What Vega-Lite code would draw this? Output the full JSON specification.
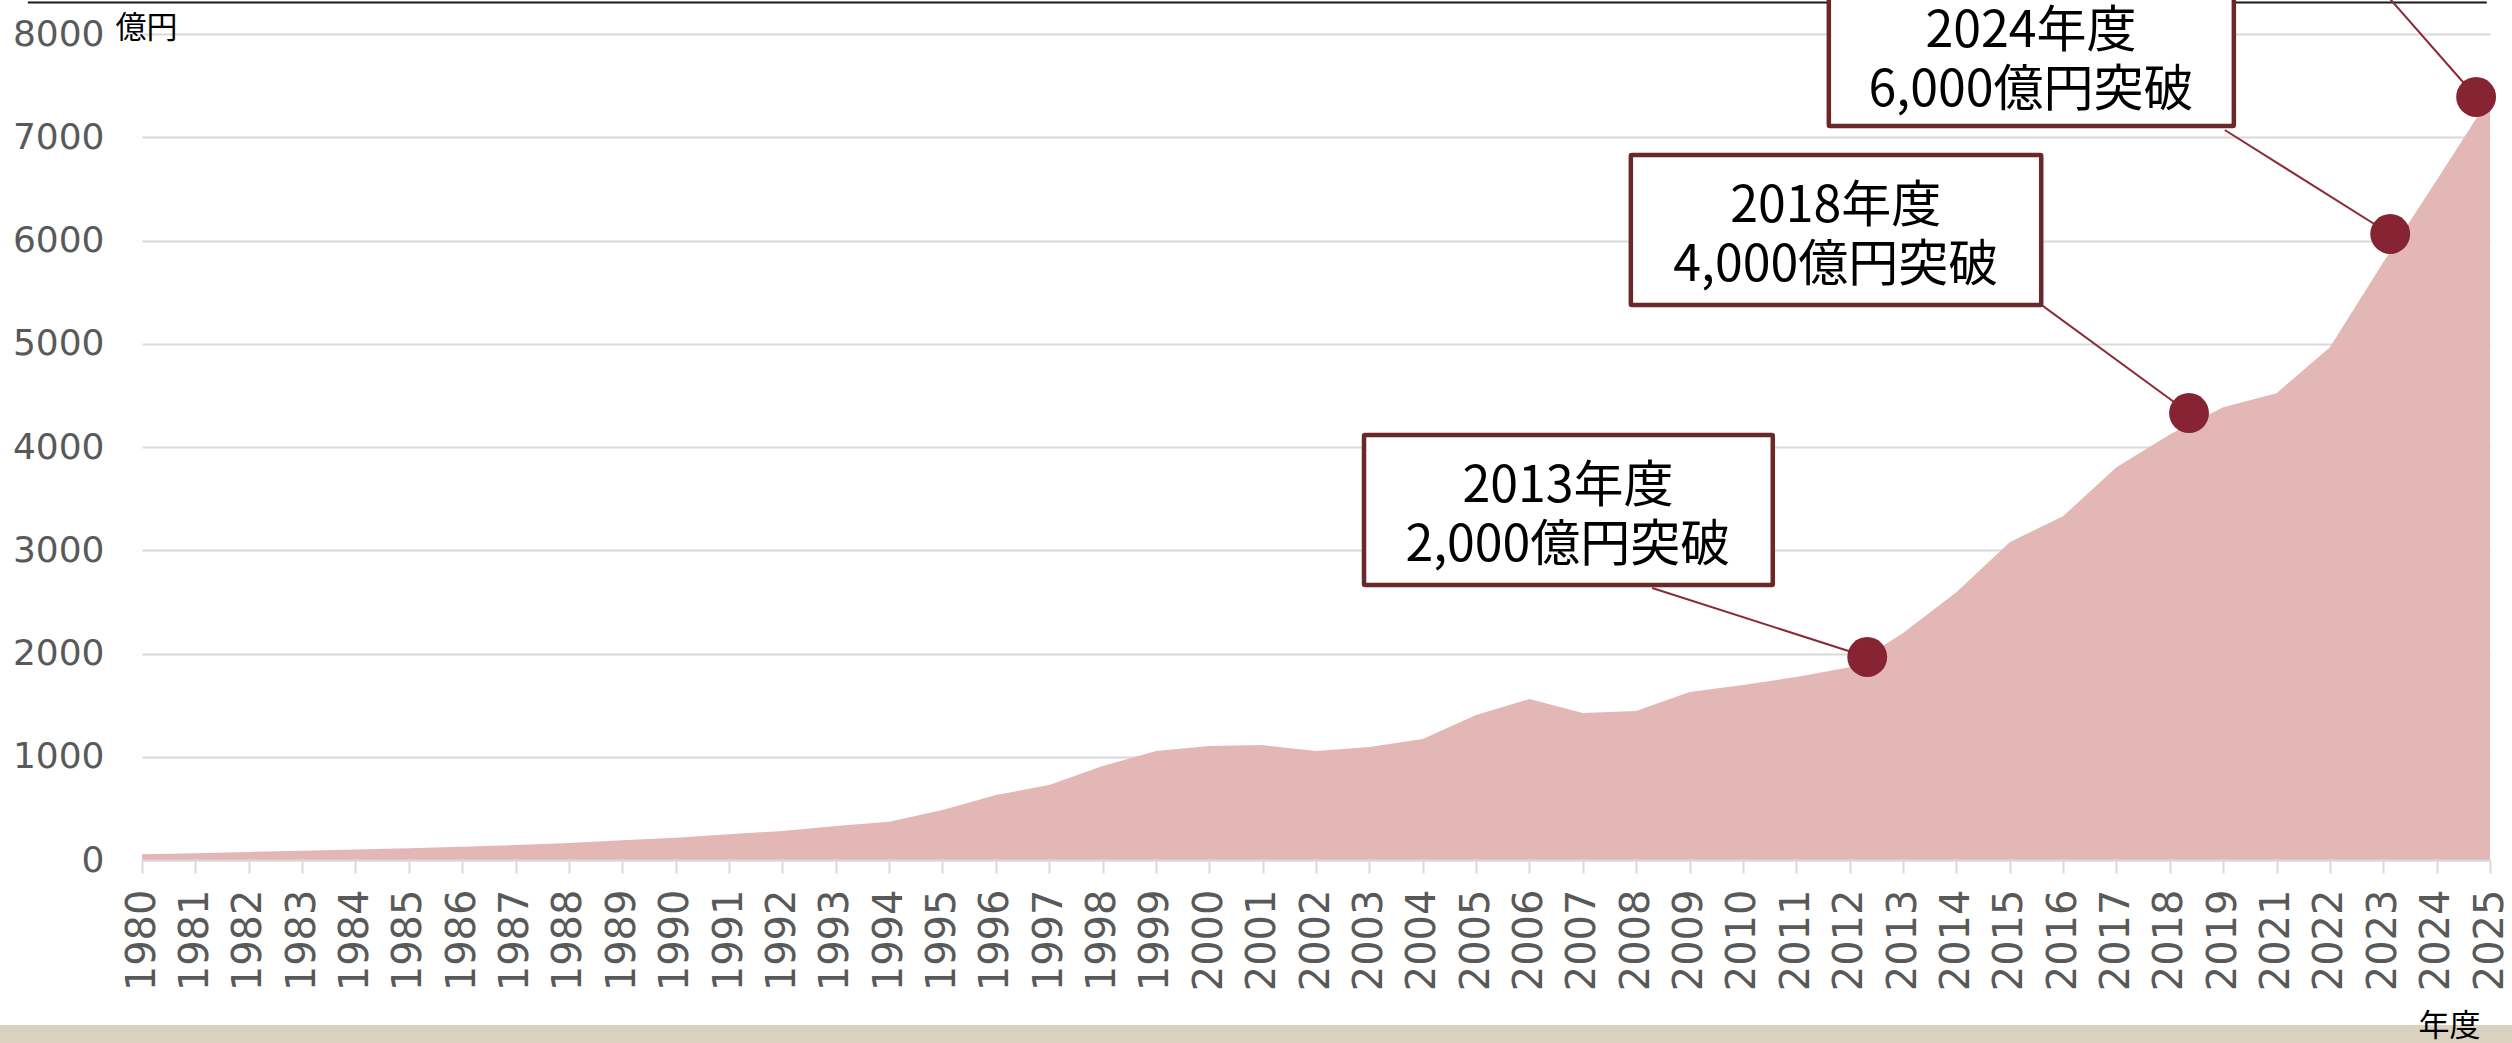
{
  "$schema": "https://vega.github.io/schema/vega-lite/v6.json",
  "width": 2348,
  "height": 826,
  "autosize": {"type": "none"},
  "padding": {"left": 142, "top": 34, "right": 22, "bottom": 183},
  "background": "#ffffff",
  "config": {"view": {"stroke": null}},
  "datasets": {
    "sales": [
      {"fy": "1980", "i": 0, "v": 55},
      {"fy": "1981", "i": 1, "v": 66},
      {"fy": "1982", "i": 2, "v": 78},
      {"fy": "1983", "i": 3, "v": 90},
      {"fy": "1984", "i": 4, "v": 102},
      {"fy": "1985", "i": 5, "v": 115},
      {"fy": "1986", "i": 6, "v": 129},
      {"fy": "1987", "i": 7, "v": 145},
      {"fy": "1988", "i": 8, "v": 165},
      {"fy": "1989", "i": 9, "v": 192},
      {"fy": "1990", "i": 10, "v": 216},
      {"fy": "1991", "i": 11, "v": 249},
      {"fy": "1992", "i": 12, "v": 281},
      {"fy": "1993", "i": 13, "v": 329},
      {"fy": "1994", "i": 14, "v": 371},
      {"fy": "1995", "i": 15, "v": 484},
      {"fy": "1996", "i": 16, "v": 629},
      {"fy": "1997", "i": 17, "v": 726},
      {"fy": "1998", "i": 18, "v": 910},
      {"fy": "1999", "i": 19, "v": 1055},
      {"fy": "2000", "i": 20, "v": 1104},
      {"fy": "2001", "i": 21, "v": 1113},
      {"fy": "2002", "i": 22, "v": 1055},
      {"fy": "2003", "i": 23, "v": 1094},
      {"fy": "2004", "i": 24, "v": 1171},
      {"fy": "2005", "i": 25, "v": 1404},
      {"fy": "2006", "i": 26, "v": 1559},
      {"fy": "2007", "i": 27, "v": 1423},
      {"fy": "2008", "i": 28, "v": 1442},
      {"fy": "2009", "i": 29, "v": 1626},
      {"fy": "2010", "i": 30, "v": 1694},
      {"fy": "2011", "i": 31, "v": 1772},
      {"fy": "2012", "i": 32, "v": 1868},
      {"fy": "2013", "i": 33, "v": 2198},
      {"fy": "2014", "i": 34, "v": 2594},
      {"fy": "2015", "i": 35, "v": 3078},
      {"fy": "2016", "i": 36, "v": 3330},
      {"fy": "2017", "i": 37, "v": 3804},
      {"fy": "2018", "i": 38, "v": 4120},
      {"fy": "2019", "i": 39, "v": 4385},
      {"fy": "2021", "i": 40, "v": 4521},
      {"fy": "2022", "i": 41, "v": 4966},
      {"fy": "2023", "i": 42, "v": 5789},
      {"fy": "2024", "i": 43, "v": 6583},
      {"fy": "2025", "i": 44, "v": 7390}
    ],
    "notes": [
      {"label": "2013年度\n2,000億円突破", "bx1": 22.90, "bx2": 30.56, "by1": 4116, "by2": 2663, "tx": 26.72, "ty": 3617, "lx": 28.30, "ly": 2634, "px": 32.33, "pv": 1966},
      {"label": "2018年度\n4,000億円突破", "bx1": 27.90, "bx2": 35.59, "by1": 6828, "by2": 5375, "tx": 31.74, "ty": 6329, "lx": 35.42, "ly": 5443, "px": 38.36, "pv": 4329},
      {"label": "2024年度\n6,000億円突破", "bx1": 31.61, "bx2": 39.20, "by1": 8562, "by2": 7109, "tx": 35.40, "ty": 8024, "lx": 39.03, "ly": 7070, "px": 42.13, "pv": 6063},
      {"label": "", "lx": 41.98, "ly": 8426, "px": 43.74, "pv": 7390}
    ]
  },
  "layer": [
    {
      "data": {"name": "sales"},
      "mark": {"type": "area", "color": "#e4b7b7", "opacity": 1, "interpolate": "linear"},
      "encoding": {
        "x": {
          "field": "i", "type": "quantitative",
          "scale": {"domain": [0, 44], "nice": false, "zero": false},
          "axis": {
            "values": [0,1,2,3,4,5,6,7,8,9,10,11,12,13,14,15,16,17,18,19,20,21,22,23,24,25,26,27,28,29,30,31,32,33,34,35,36,37,38,39,40,41,42,43,44],
            "labelExpr": "datum.value < 40 ? '' + (1980 + datum.value) : '' + (1981 + datum.value)",
            "labelAngle": -90,
            "labelFont": "DejaVu Sans",
            "labelFontSize": 40,
            "labelColor": "#595959",
            "labelPadding": 16,
            "labelOverlap": false,
            "labelFlush": false,
            "labelBound": false,
            "grid": false,
            "ticks": true,
            "tickSize": 13,
            "tickColor": "#d9d9d9",
            "tickWidth": 2,
            "domain": true,
            "domainColor": "#d9d9d9",
            "domainWidth": 2,
            "zindex": 1,
            "title": "年度",
            "titleFont": "Noto Sans CJK JP",
            "titleFontSize": 31,
            "titleFontWeight": "normal",
            "titleColor": "#000000",
            "titleAngle": 0,
            "titleAlign": "right",
            "titleBaseline": "middle",
            "titleX": 2338,
            "titleY": 166
          }
        },
        "y": {
          "field": "v", "type": "quantitative",
          "scale": {"domain": [0, 8000], "nice": false},
          "axis": {
            "values": [0, 1000, 2000, 3000, 4000, 5000, 6000, 7000, 8000],
            "format": "d",
            "labelFont": "DejaVu Sans",
            "labelFontSize": 36,
            "labelColor": "#595959",
            "labelPadding": 38,
            "ticks": false,
            "tickSize": 0,
            "domain": false,
            "grid": true,
            "gridColor": "#d9d9d9",
            "gridWidth": 2,
            "title": "億円",
            "titleFont": "Noto Sans CJK JP",
            "titleFontSize": 31,
            "titleFontWeight": "normal",
            "titleColor": "#000000",
            "titleAngle": 0,
            "titleAlign": "left",
            "titleBaseline": "middle",
            "titleX": -27,
            "titleY": -6
          }
        }
      }
    },
    {
      "data": {"values": [{}]},
      "mark": {"type": "rect", "color": "#dbd1bf"},
      "encoding": {
        "x": {"datum": -2.7},
        "x2": {"datum": 44.5},
        "y": {"datum": -1598},
        "y2": {"datum": -1800}
      }
    },
    {
      "data": {"values": [{}]},
      "mark": {"type": "rule", "color": "#1a1a1a", "strokeWidth": 2},
      "encoding": {
        "x": {"datum": -2.14},
        "x2": {"datum": 43.94},
        "y": {"datum": 8305}
      }
    },
    {
      "data": {"name": "notes"},
      "mark": {"type": "rule", "color": "#8a2a36", "strokeWidth": 2},
      "encoding": {
        "x": {"field": "lx", "type": "quantitative"},
        "x2": {"field": "px"},
        "y": {"field": "ly", "type": "quantitative"},
        "y2": {"field": "pv"}
      }
    },
    {
      "data": {"name": "notes"},
      "mark": {"type": "rect", "fill": "#ffffff", "stroke": "#6b2828", "strokeWidth": 4.5, "cornerRadius": 1},
      "encoding": {
        "x": {"field": "bx1", "type": "quantitative"},
        "x2": {"field": "bx2"},
        "y": {"field": "by1", "type": "quantitative"},
        "y2": {"field": "by2"}
      }
    },
    {
      "data": {"name": "notes"},
      "mark": {"type": "text", "font": "Noto Sans CJK JP", "fontSize": 50, "color": "#000000", "align": "center", "baseline": "middle", "lineBreak": "\n", "lineHeight": 59},
      "encoding": {
        "x": {"field": "tx", "type": "quantitative"},
        "y": {"field": "ty", "type": "quantitative"},
        "text": {"field": "label"}
      }
    },
    {
      "data": {"name": "notes"},
      "mark": {"type": "circle", "color": "#862433", "opacity": 1, "size": 1590},
      "encoding": {
        "x": {"field": "px", "type": "quantitative"},
        "y": {"field": "pv", "type": "quantitative"}
      }
    }
  ]
}
